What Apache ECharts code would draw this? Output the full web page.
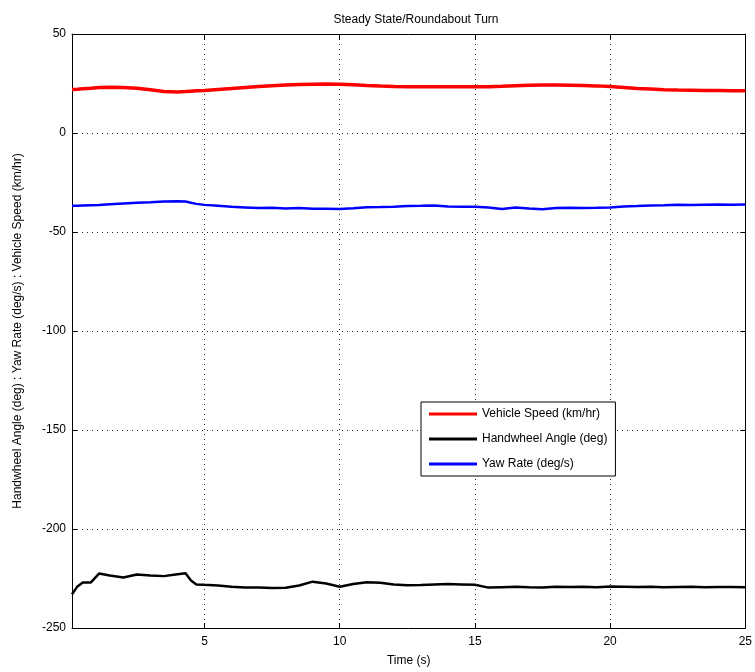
<!DOCTYPE html>
<html><head><meta charset="utf-8">
<script src="https://cdn.jsdelivr.net/npm/echarts@6/dist/echarts.min.js"></script>
<style>html,body{margin:0;padding:0;background:#fff}#c{width:755px;height:672px}</style>
</head><body><div id="c"></div>
<script>
var time = [0.1,0.3,0.5,0.8,1.1,1.5,2,2.5,3,3.5,4,4.3,4.5,4.7,5,5.5,6,6.5,7,7.5,8,8.5,9,9.5,10,10.5,11,11.5,12,12.5,13,13.5,14,14.5,15,15.5,16,16.5,17,17.5,18,18.5,19,19.5,20,20.5,21,21.5,22,22.5,23,23.5,24,24.5,25];
var vehicleSpeed = [22.0,22.1,22.3,22.6,23.0,23.1,23.0,22.6,21.8,21.0,20.7,20.9,21.1,21.3,21.5,22.0,22.5,23.0,23.5,23.9,24.2,24.5,24.6,24.7,24.6,24.4,24.0,23.7,23.5,23.4,23.4,23.3,23.3,23.3,23.3,23.4,23.6,23.9,24.1,24.2,24.2,24.1,24.0,23.8,23.5,23.0,22.5,22.2,21.9,21.7,21.6,21.5,21.5,21.4,21.3];
var handwheelAngle = [-233,-229,-227,-227,-222.5,-223.5,-224.5,-223,-223.5,-223.8,-222.8,-222.3,-226,-228,-228.2,-228.5,-229.2,-229.5,-229.6,-229.8,-229.7,-228.5,-226.6,-227.5,-229.2,-227.8,-226.9,-227.2,-228,-228.4,-228.3,-228,-227.8,-228,-228.2,-229.6,-229.4,-229.2,-229.4,-229.5,-229.2,-229.3,-229.2,-229.4,-229.1,-229.2,-229.3,-229.2,-229.4,-229.3,-229.2,-229.4,-229.3,-229.3,-229.4];
var yawRate = [-36.8,-36.7,-36.6,-36.5,-36.4,-36.0,-35.6,-35.2,-35.0,-34.6,-34.5,-34.6,-35.2,-35.8,-36.3,-36.8,-37.3,-37.6,-37.9,-37.8,-38.1,-37.9,-38.2,-38.3,-38.4,-38.0,-37.5,-37.4,-37.2,-36.9,-36.8,-36.6,-37.1,-37.2,-37.3,-37.6,-38.4,-37.6,-38.1,-38.5,-37.9,-37.8,-37.9,-37.8,-37.6,-37.1,-36.9,-36.6,-36.5,-36.2,-36.4,-36.2,-36.1,-36.2,-36.1];
var xTicks = [5,10,15,20,25];
var seriesNames = ['Vehicle Speed (km/hr)','Handwheel Angle (deg)','Yaw Rate (deg/s)'];

function pairs(v){ return time.map(function(t,i){ return [t, v[i]]; }); }
var font = 'Liberation Sans, Arial, sans-serif';
var chart = echarts.init(document.getElementById('c'));
var gridLine = {show:true, lineStyle:{color:'#222', type:[1,4], width:1}};
chart.setOption({
  animation:false,
  title:{text:'Steady State/Roundabout Turn', left:411, top:9, textAlign:'center',
    textStyle:{fontFamily:font, fontSize:12, fontWeight:'normal', color:'#000'}},
  grid:{left:72, right:4, top:34, bottom:44},
  legend:{orient:'vertical', left:421, top:402, data:seriesNames,
    itemWidth:48, itemHeight:3, itemGap:13, icon:'rect',
    borderColor:'#000', borderWidth:1, borderRadius:0, padding:[6,8,6,8],
    backgroundColor:'#fff',
    textStyle:{fontFamily:font, fontSize:12, color:'#000'}},
  xAxis:[{type:'value', min:0.1, max:25, name:'Time (s)', nameLocation:'middle', nameGap:27,
    nameTextStyle:{fontFamily:font, fontSize:12, color:'#000'},
    axisLine:{onZero:false, lineStyle:{color:'#000'}},
    axisTick:{inside:true, length:5, customValues:xTicks, lineStyle:{color:'#000'}},
    axisLabel:{customValues:xTicks, fontFamily:font, fontSize:12, color:'#000', margin:8},
    splitLine:gridLine},
   {type:'value', position:'top', min:0.1, max:25,
    axisLine:{onZero:false, lineStyle:{color:'#000'}},
    axisTick:{inside:true, length:5, customValues:xTicks, lineStyle:{color:'#000'}},
    axisLabel:{show:false}, splitLine:{show:false}}],
  yAxis:[{type:'value', min:-250, max:50, interval:50,
    name:'Handwheel Angle (deg) : Yaw Rate (deg/s) : Vehicle Speed (km/hr)',
    nameLocation:'middle', nameGap:48,
    nameTextStyle:{fontFamily:font, fontSize:12, color:'#000'},
    axisLine:{show:true, onZero:false, lineStyle:{color:'#000'}},
    axisTick:{show:true, inside:true, length:5, lineStyle:{color:'#000'}},
    axisLabel:{fontFamily:font, fontSize:12, color:'#000', margin:6},
    splitLine:gridLine},
   {type:'value', position:'right', min:-250, max:50, interval:50,
    axisLine:{show:true, onZero:false, lineStyle:{color:'#000'}},
    axisTick:{show:true, inside:true, length:5, lineStyle:{color:'#000'}},
    axisLabel:{show:false}, splitLine:{show:false}}],
  series:[
    {name:seriesNames[0], type:'line', data:pairs(vehicleSpeed), showSymbol:false, color:'#ff0000', lineStyle:{width:3.5, color:'#ff0000'}},
    {name:seriesNames[1], type:'line', data:pairs(handwheelAngle), showSymbol:false, color:'#000000', lineStyle:{width:2.5, color:'#000000'}},
    {name:seriesNames[2], type:'line', data:pairs(yawRate), showSymbol:false, color:'#0000ff', lineStyle:{width:2.5, color:'#0000ff'}}
  ]
});
</script></body></html>
